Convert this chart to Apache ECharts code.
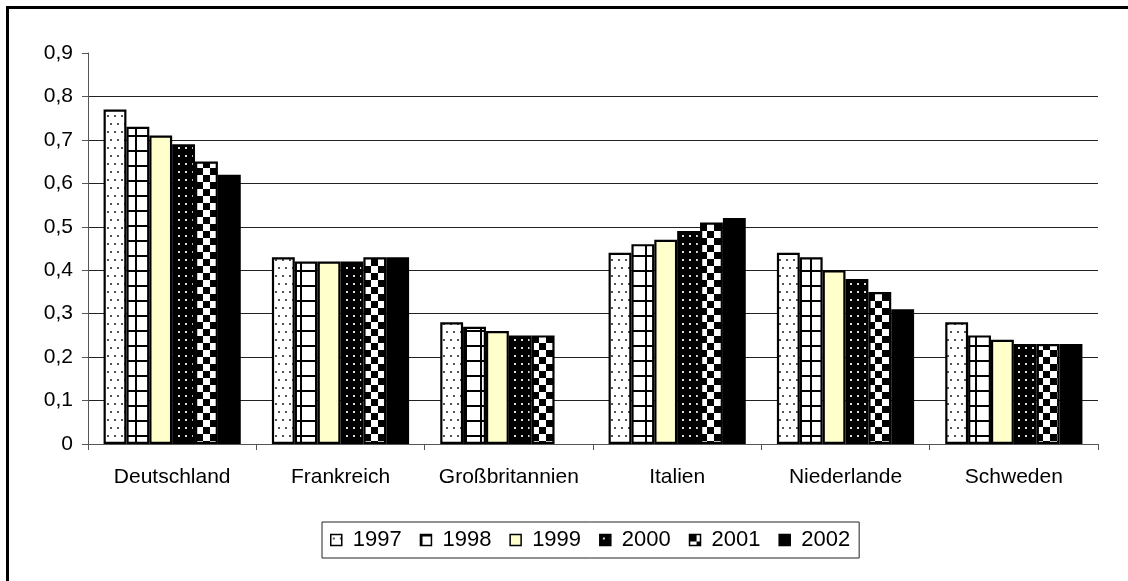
<!DOCTYPE html>
<html>
<head>
<meta charset="utf-8">
<script src="https://cdn.jsdelivr.net/npm/echarts@6/dist/echarts.min.js"></script>
<style>
html,body{margin:0;padding:0;background:#fff;}
#chart{width:1128px;height:581px;}
</style>
</head>
<body>
<div id="chart"></div>
<script>
const categories = ['Deutschland', 'Frankreich', 'Großbritannien', 'Italien', 'Niederlande', 'Schweden'];
const years = ['1997', '1998', '1999', '2000', '2001', '2002'];
const v1997 = [0.77, 0.43, 0.28, 0.44, 0.44, 0.28];
const v1998 = [0.73, 0.42, 0.27, 0.46, 0.43, 0.25];
const v1999 = [0.71, 0.42, 0.26, 0.47, 0.40, 0.24];
const v2000 = [0.69, 0.42, 0.25, 0.49, 0.38, 0.23];
const v2001 = [0.65, 0.43, 0.25, 0.51, 0.35, 0.23];
const v2002 = [0.62, 0.43, null, 0.52, 0.31, 0.23];
const yTickLabels = ['0', '0,1', '0,2', '0,3', '0,4', '0,5', '0,6', '0,7', '0,8', '0,9'];

function makeTile(w, h, draw) {
  const c = document.createElement('canvas');
  c.width = w; c.height = h;
  const ctx = c.getContext('2d');
  draw(ctx, w, h);
  return { image: c, repeat: 'repeat' };
}
// 1997: white with sparse grey dots
const p1997 = makeTile(7, 16, (ctx, w, h) => {
  ctx.fillStyle = '#fff'; ctx.fillRect(0, 0, w, h);
  ctx.fillStyle = '#555';
  ctx.fillRect(2, 3, 2, 2);
  ctx.fillRect(5, 11, 2, 2);
});
// 1998: white with black grid
const p1998 = makeTile(15, 15, (ctx, w, h) => {
  ctx.fillStyle = '#fff'; ctx.fillRect(0, 0, w, h);
  ctx.fillStyle = '#000';
  ctx.fillRect(0, 0, w, 2);
  ctx.fillRect(0, 0, 2, h);
});
// 1999: light yellow
const p1999 = '#FFFFCC';
// 2000: black with small light dots
const p2000 = makeTile(7, 8, (ctx, w, h) => {
  ctx.fillStyle = '#000'; ctx.fillRect(0, 0, w, h);
  ctx.fillStyle = '#ddd';
  ctx.fillRect(3, 3, 2, 2);
});
// 2001: checkerboard
const p2001 = makeTile(14, 14, (ctx, w, h) => {
  ctx.fillStyle = '#fff'; ctx.fillRect(0, 0, w, h);
  ctx.fillStyle = '#000';
  ctx.fillRect(0, 0, 7, 7);
  ctx.fillRect(7, 7, 7, 7);
});
const p2002 = '#000';

const seriesValues = [v1997, v1998, v1999, v2000, v2001, v2002];
const fills = [p1997, p1998, p1999, p2000, p2001, p2002];

const FONT = "'Liberation Sans', Arial, sans-serif";
const chart = echarts.init(document.getElementById('chart'), null, { renderer: 'canvas' });
chart.setOption({
  backgroundColor: '#fff',
  animation: false,
  textStyle: { fontFamily: FONT, color: '#000' },
  graphic: [{
    type: 'rect',
    z: -10,
    shape: { x: 7.5, y: 7.5, width: 1300, height: 800 },
    style: { fill: 'none', stroke: '#000', lineWidth: 3 }
  }],
  grid: { left: 88, top: 53, right: 30, bottom: 137, containLabel: false },
  legend: {
    data: years,
    left: 322,
    top: 522,
    orient: 'horizontal',
    itemWidth: 11,
    itemHeight: 11,
    itemGap: 18,
    padding: [6, 9, 6, 8],
    borderColor: '#222',
    borderWidth: 1,
    icon: 'rect',
    textStyle: { fontFamily: FONT, fontSize: 22, lineHeight: 24, color: '#000', padding: [0, 0, 0, 6] },
    itemStyle: { borderColor: '#000', borderWidth: 1.5 }
  },
  xAxis: {
    type: 'category',
    data: categories,
    boundaryGap: true,
    axisLine: { lineStyle: { color: '#555', width: 1 } },
    axisTick: { show: true, length: 6, lineStyle: { color: '#555' } },
    axisLabel: { fontFamily: FONT, fontSize: 21, color: '#000', margin: 23, interval: 0 }
  },
  yAxis: {
    type: 'value',
    min: 0,
    max: 0.9,
    interval: 0.1,
    axisLine: { show: true, lineStyle: { color: '#555', width: 1 } },
    axisTick: { show: true, length: 6, lineStyle: { color: '#555' } },
    axisLabel: {
      fontFamily: FONT, fontSize: 21, color: '#000', margin: 15,
      formatter: v => yTickLabels[Math.round(v * 10)]
    },
    splitLine: { show: true, showMaxLine: false, lineStyle: { color: '#222', width: 1 } }
  },
  series: years.map((y, i) => ({
    name: y,
    type: 'bar',
    data: seriesValues[i],
    barGap: '0%',
    barCategoryGap: '18.5%',
    itemStyle: { color: fills[i], borderColor: '#000', borderWidth: 2.2 }
  }))
});
</script>
</body>
</html>
